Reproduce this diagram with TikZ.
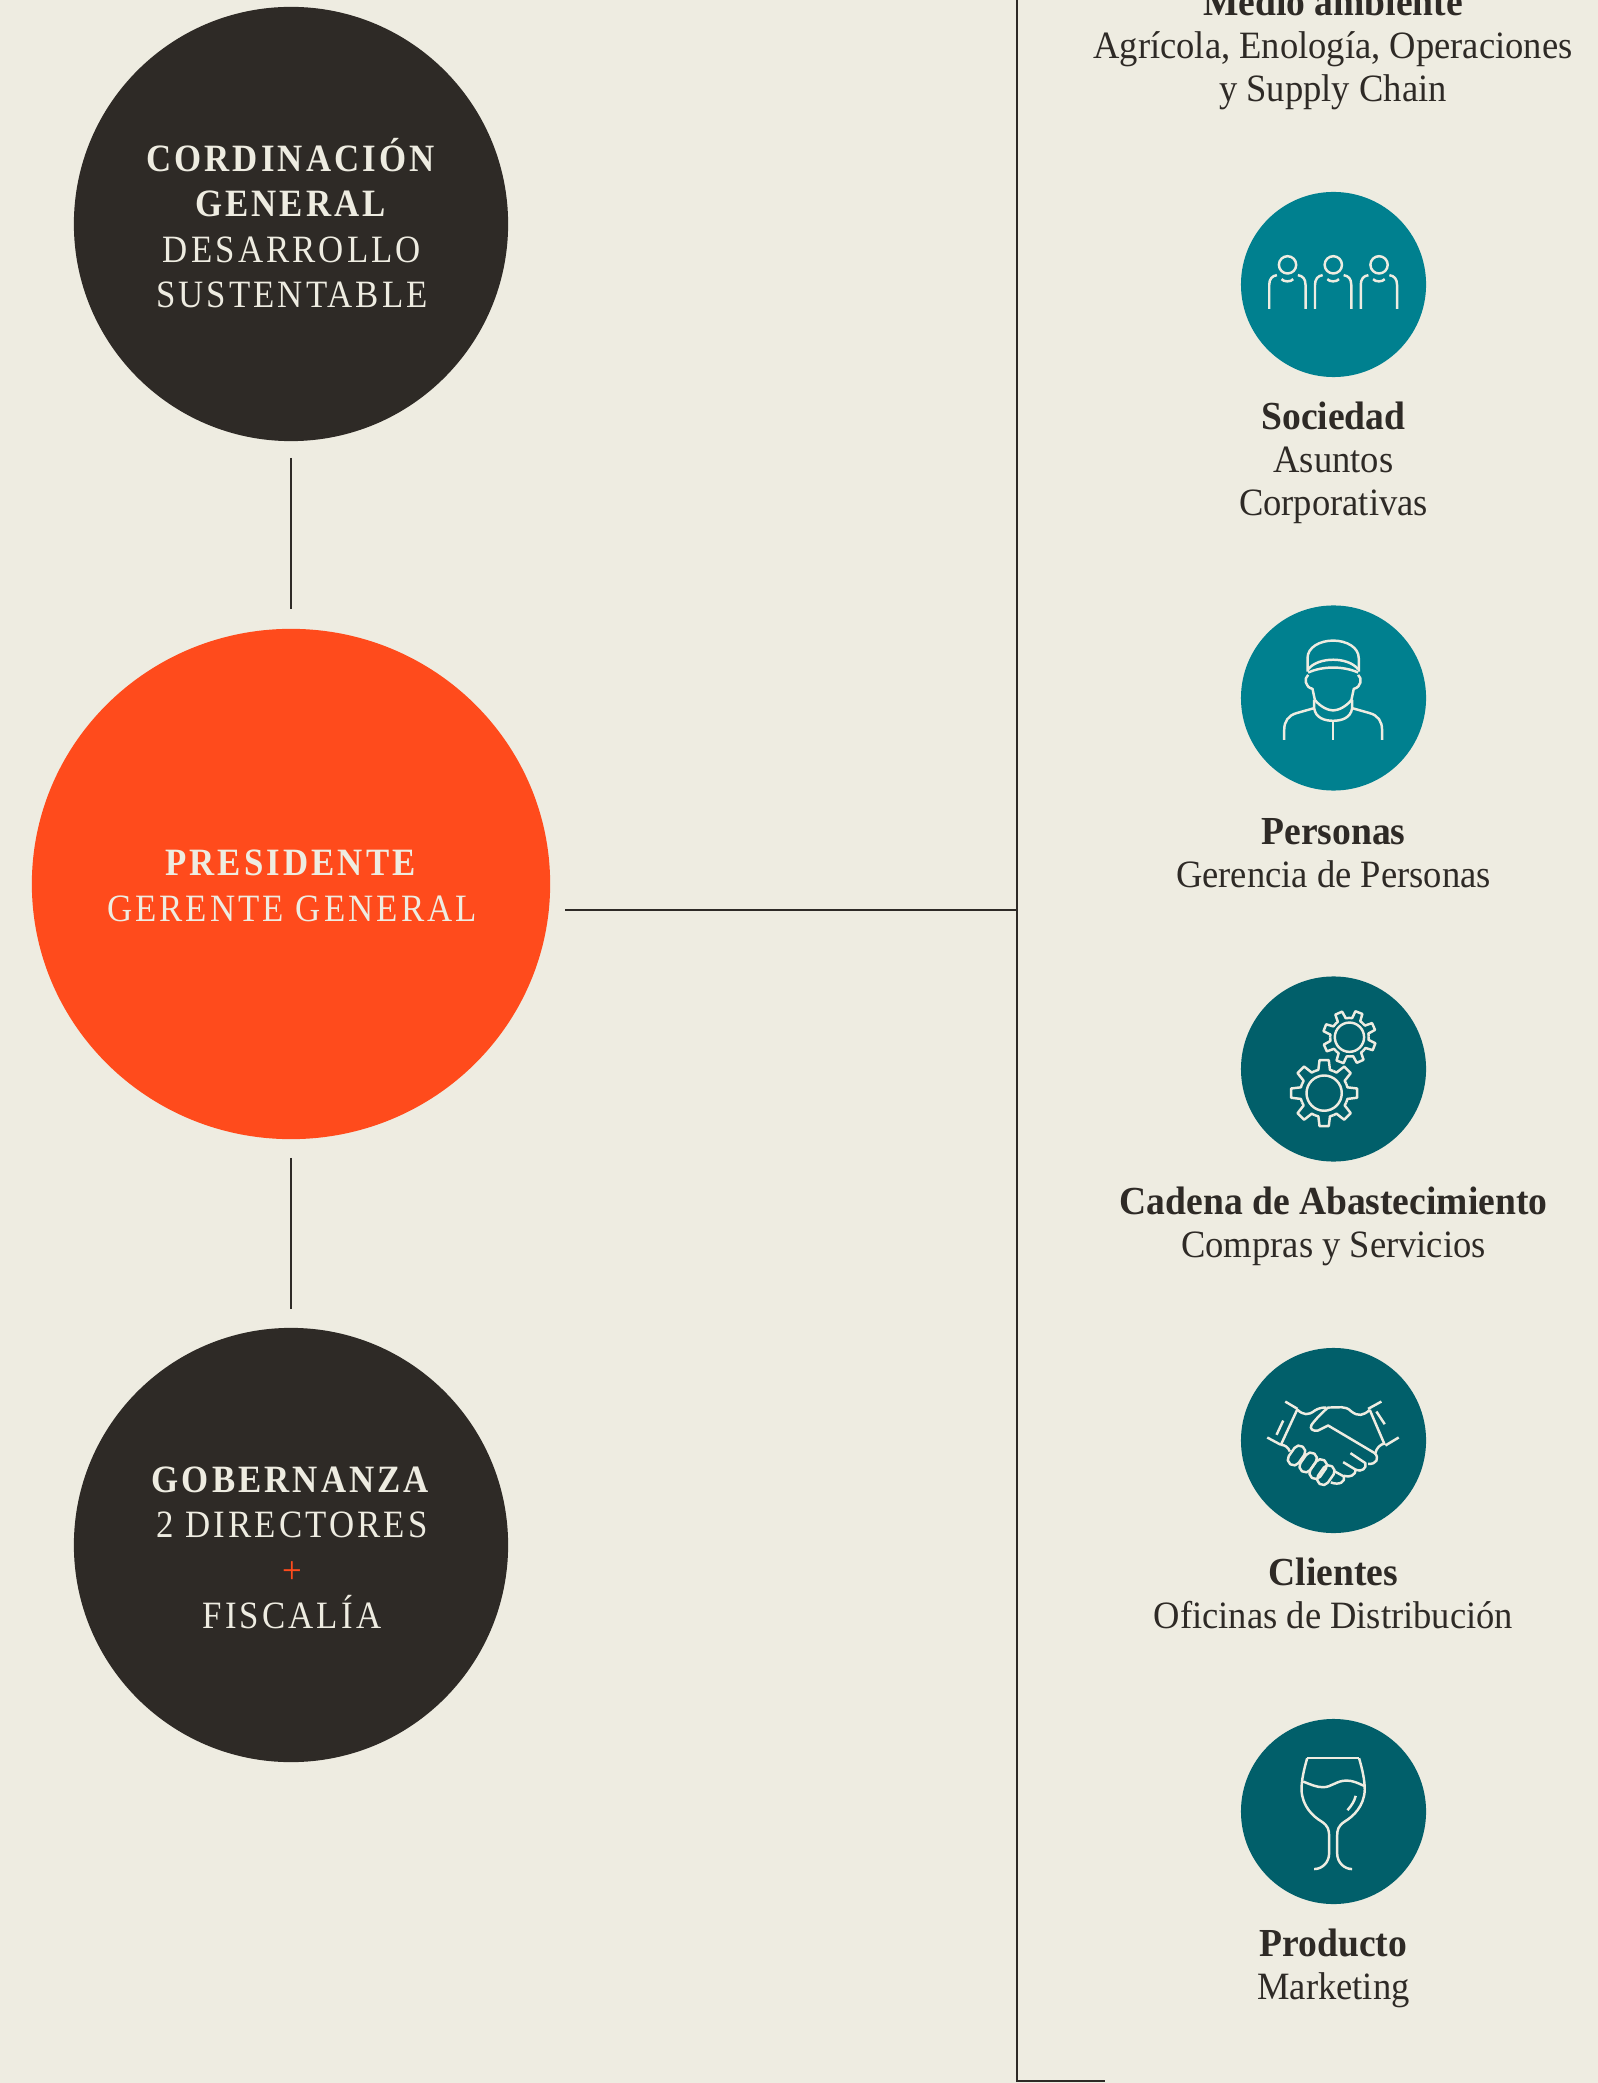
\documentclass[tikz,border=0pt]{standalone}
\usepackage{fontspec}
\setmainfont[FakeStretch=0.945]{Liberation Serif}
\newfontfamily\capsfont[LetterSpace=8,FakeStretch=0.9]{Liberation Serif}
\usetikzlibrary{positioning,shapes.geometric}
\definecolor{paper}{HTML}{EEECE1}
\definecolor{ink}{HTML}{2E2A26}
\definecolor{flame}{HTML}{FF4B1C}
\definecolor{tealA}{HTML}{00808F}
\definecolor{tealB}{HTML}{015F6A}
\newcommand{\areahead}[1]{{\fontsize{11.3}{12.2}\selectfont\bfseries #1}}
\tikzset{
	bigdisc/.style={ellipse,fill=ink,minimum width=4.34cm,minimum height=4.34cm,inner sep=0pt},
	disctxt/.style={text=paper,align=center,inner sep=0pt,font=\fontsize{11}{12.9}\selectfont\capsfont},
	smalldisc/.style={circle,minimum size=1.85cm,inner sep=0pt},
	area/.style={text=ink,align=center,anchor=north,font=\fontsize{11}{12.2}\selectfont},
	link/.style={draw=ink,line width=0.4pt},
	icon/.style={x=0.003333cm,y=-0.003333cm,draw=paper,line width=0.7pt,line join=round},
}
\begin{document}
\begin{tikzpicture}[x=0.01cm,y=-0.01cm]
	\useasboundingbox[fill=paper] (0,0) rectangle (1598,2083);
	% left column
	\node[bigdisc] (cordinacion) at (291,224) {};
	\node[bigdisc,fill=flame,minimum width=5.18cm,minimum height=5.10cm] (presidente) at (291,884) {};
	\node[bigdisc] (gobernanza) at (291,1545) {};
	\node[disctxt] (cordinaciontxt) at (292,223) {\textbf{CORDINACIÓN}\\\textbf{GENERAL}\\DESARROLLO\\SUSTENTABLE};
	\node[disctxt] (presidentetxt) at (292,886) {\textbf{PRESIDENTE}\\GERENTE GENERAL};
	\node[disctxt] (gobernanzatxt) at (292,1548) {\textbf{GOBERNANZA}\\2 DIRECTORES\\{\color{flame}+}\\FISCALÍA};
	\draw[link,shorten <=0.16cm,shorten >=0.19cm] (cordinacion) -- (presidente);
	\draw[link,shorten <=0.18cm,shorten >=0.18cm] (presidente) -- (gobernanza);
	% spine
	\coordinate (presout) at (565,910);
	\coordinate (spinemid) at (1017,910);
	\coordinate (spinetop) at (1017,0);
	\coordinate (spinebot) at (1017,2081);
	\coordinate (spineend) at (1105,2081);
	\draw[link] (presout) -- (spinemid);
	\draw[link] (spinetop) -- (spinebot) -- (spineend);
	% right column
	\node[area] (medio) at (1333,-24) {\areahead{Medio ambiente}\\Agrícola, Enología, Operaciones\\y Supply Chain};
	\node[smalldisc,fill=tealA] (sociedad) at (1333.5,284.5) {};
	\node[smalldisc,fill=tealA] (personas) at (1333.5,698) {};
	\node[smalldisc,fill=tealB] (cadena) at (1333.5,1069) {};
	\node[smalldisc,fill=tealB] (clientes) at (1333.5,1440.5) {};
	\node[smalldisc,fill=tealB] (producto) at (1333.5,1811.5) {};
	\node[area,below=0.12cm of sociedad] (sociedadtxt) {\areahead{Sociedad}\\Asuntos\\Corporativas};
	\node[area,below=0.145cm of personas] (personastxt) {\areahead{Personas}\\Gerencia de Personas};
	\node[area,below=0.12cm of cadena] (cadenatxt) {\areahead{Cadena de Abastecimiento}\\Compras y Servicios};
	\node[area,below=0.12cm of clientes] (clientestxt) {\areahead{Clientes}\\Oficinas de Distribución};
	\node[area,below=0.12cm of producto] (productotxt) {\areahead{Producto}\\Marketing};
	% people
	\begin{scope}[shift={(1200,170)},icon]
		\foreach \dx in {0,137.5,275} {
			\draw (263+\dx,285) circle (26);
			\draw (208+\dx,417) -- (208+\dx,345) .. controls (208+\dx,328) and (216+\dx,318) .. (231+\dx,316);
			\draw (317+\dx,417) -- (317+\dx,345) .. controls (317+\dx,328) and (309+\dx,318) .. (294+\dx,316);
			\draw (245+\dx,328) .. controls (252+\dx,337) and (273+\dx,337) .. (280+\dx,328);
		}
	\end{scope}
	% worker
	\begin{scope}[shift={(1200,590)},icon]
		\draw (323,245) -- (323,205) .. controls (323,172) and (360,152) .. (400,152) .. controls (440,152) and (477,172) .. (477,205) -- (477,245);
		\draw (325,238) .. controls (355,200) and (445,200) .. (475,238);
		\draw (325,248) .. controls (370,228) and (430,228) .. (475,248);
		\draw (325,255) .. controls (312,265) and (315,292) .. (338,297) -- (345,330) .. controls (360,350) and (385,362) .. (400,362) .. controls (415,362) and (440,350) .. (455,330) -- (462,297) .. controls (485,292) and (488,265) .. (475,255);
		\draw (343,330) -- (343,355) .. controls (347,385) and (375,393) .. (400,393) .. controls (425,393) and (453,385) .. (457,355) -- (457,330);
		\draw (343,355) -- (290,370) .. controls (265,377) and (253,395) .. (253,420) -- (253,450);
		\draw (457,355) -- (510,370) .. controls (535,377) and (547,395) .. (547,420) -- (547,450);
		\draw (400,393) -- (400,450);
	\end{scope}
	% gears
	\begin{scope}[shift={(1200,960)},icon]
		\begin{scope}[shift={(373,400)}]
			\foreach \a in {0,45,...,315} {
				\draw (\a-22.5:72) -- (\a-14:72) -- (\a-8:100) -- (\a+8:100) -- (\a+14:72) -- (\a+22.5:72);
			}
			\draw (0,0) circle (53);
		\end{scope}
		\begin{scope}[shift={(449,232)}]
			\foreach \a in {21,66,...,336} {
				\draw (\a-22.5:58) -- (\a-13:58) -- (\a-8:80) -- (\a+8:80) -- (\a+13:58) -- (\a+22.5:58);
			}
			\draw (0,0) circle (44);
		\end{scope}
	\end{scope}
	% handshake
	\begin{scope}[shift={(1200,1330)},icon]
		\draw (256,215) -- (293,237);
		\draw (202,323) -- (243,345);
		\draw (293,237) -- (243,345);
		\draw (250,272) -- (230,315);
		\draw (545,215) -- (505,237);
		\draw (597,323) -- (557,347);
		\draw (510,240) -- (555,345);
		\draw (530,245) -- (555,283);
		\draw (293,240) .. controls (310,255) and (325,258) .. (345,242) .. controls (355,235) and (370,232) .. (380,233);
		\draw (510,240) .. controls (490,258) and (475,260) .. (455,245) .. controls (445,235) and (435,232) .. (425,232) -- (385,233) .. controls (370,245) and (350,265) .. (335,285) .. controls (328,298) and (340,305) .. (355,302) -- (385,287) -- (525,370) .. controls (540,385) and (530,405) .. (505,402);
		\draw (555,340) .. controls (540,345) and (530,355) .. (527,370);
		\draw (452,370) -- (497,400) .. controls (502,415) and (485,428) .. (468,420);
		\draw (430,397) -- (468,420) .. controls (468,435) and (450,445) .. (432,438);
		\draw (405,425) -- (432,440) .. controls (438,455) and (420,468) .. (393,458);
		\draw (243,345) .. controls (255,345) and (265,352) .. (270,365);
		\foreach \cx/\cy in {290/377,325/398,355/418,378/436} {
			\draw[shift={(\cx,\cy)},rotate=55,rounded corners=1.6pt] (-32,-18) rectangle (32,18);
		}
	\end{scope}
	% glass
	\begin{scope}[shift={(1200,1700)},icon]
		\draw (322,175) -- (478,175);
		\draw (322,175) .. controls (312,210) and (305,240) .. (305,270) .. controls (307,320) and (340,350) .. (365,365) .. controls (385,378) and (388,390) .. (388,410) -- (388,460) .. controls (388,490) and (365,508) .. (343,508);
		\draw (478,175) .. controls (488,210) and (495,240) .. (495,270) .. controls (493,320) and (460,350) .. (435,365) .. controls (415,378) and (412,390) .. (412,410) -- (412,460) .. controls (412,490) and (435,508) .. (457,508);
		\draw (310,245) .. controls (335,255) and (350,262) .. (370,262) .. controls (395,262) and (410,242) .. (440,242) .. controls (460,242) and (475,250) .. (493,258);
		\draw (468,288) .. controls (463,305) and (455,318) .. (443,331);
	\end{scope}
\end{tikzpicture}
\end{document}
